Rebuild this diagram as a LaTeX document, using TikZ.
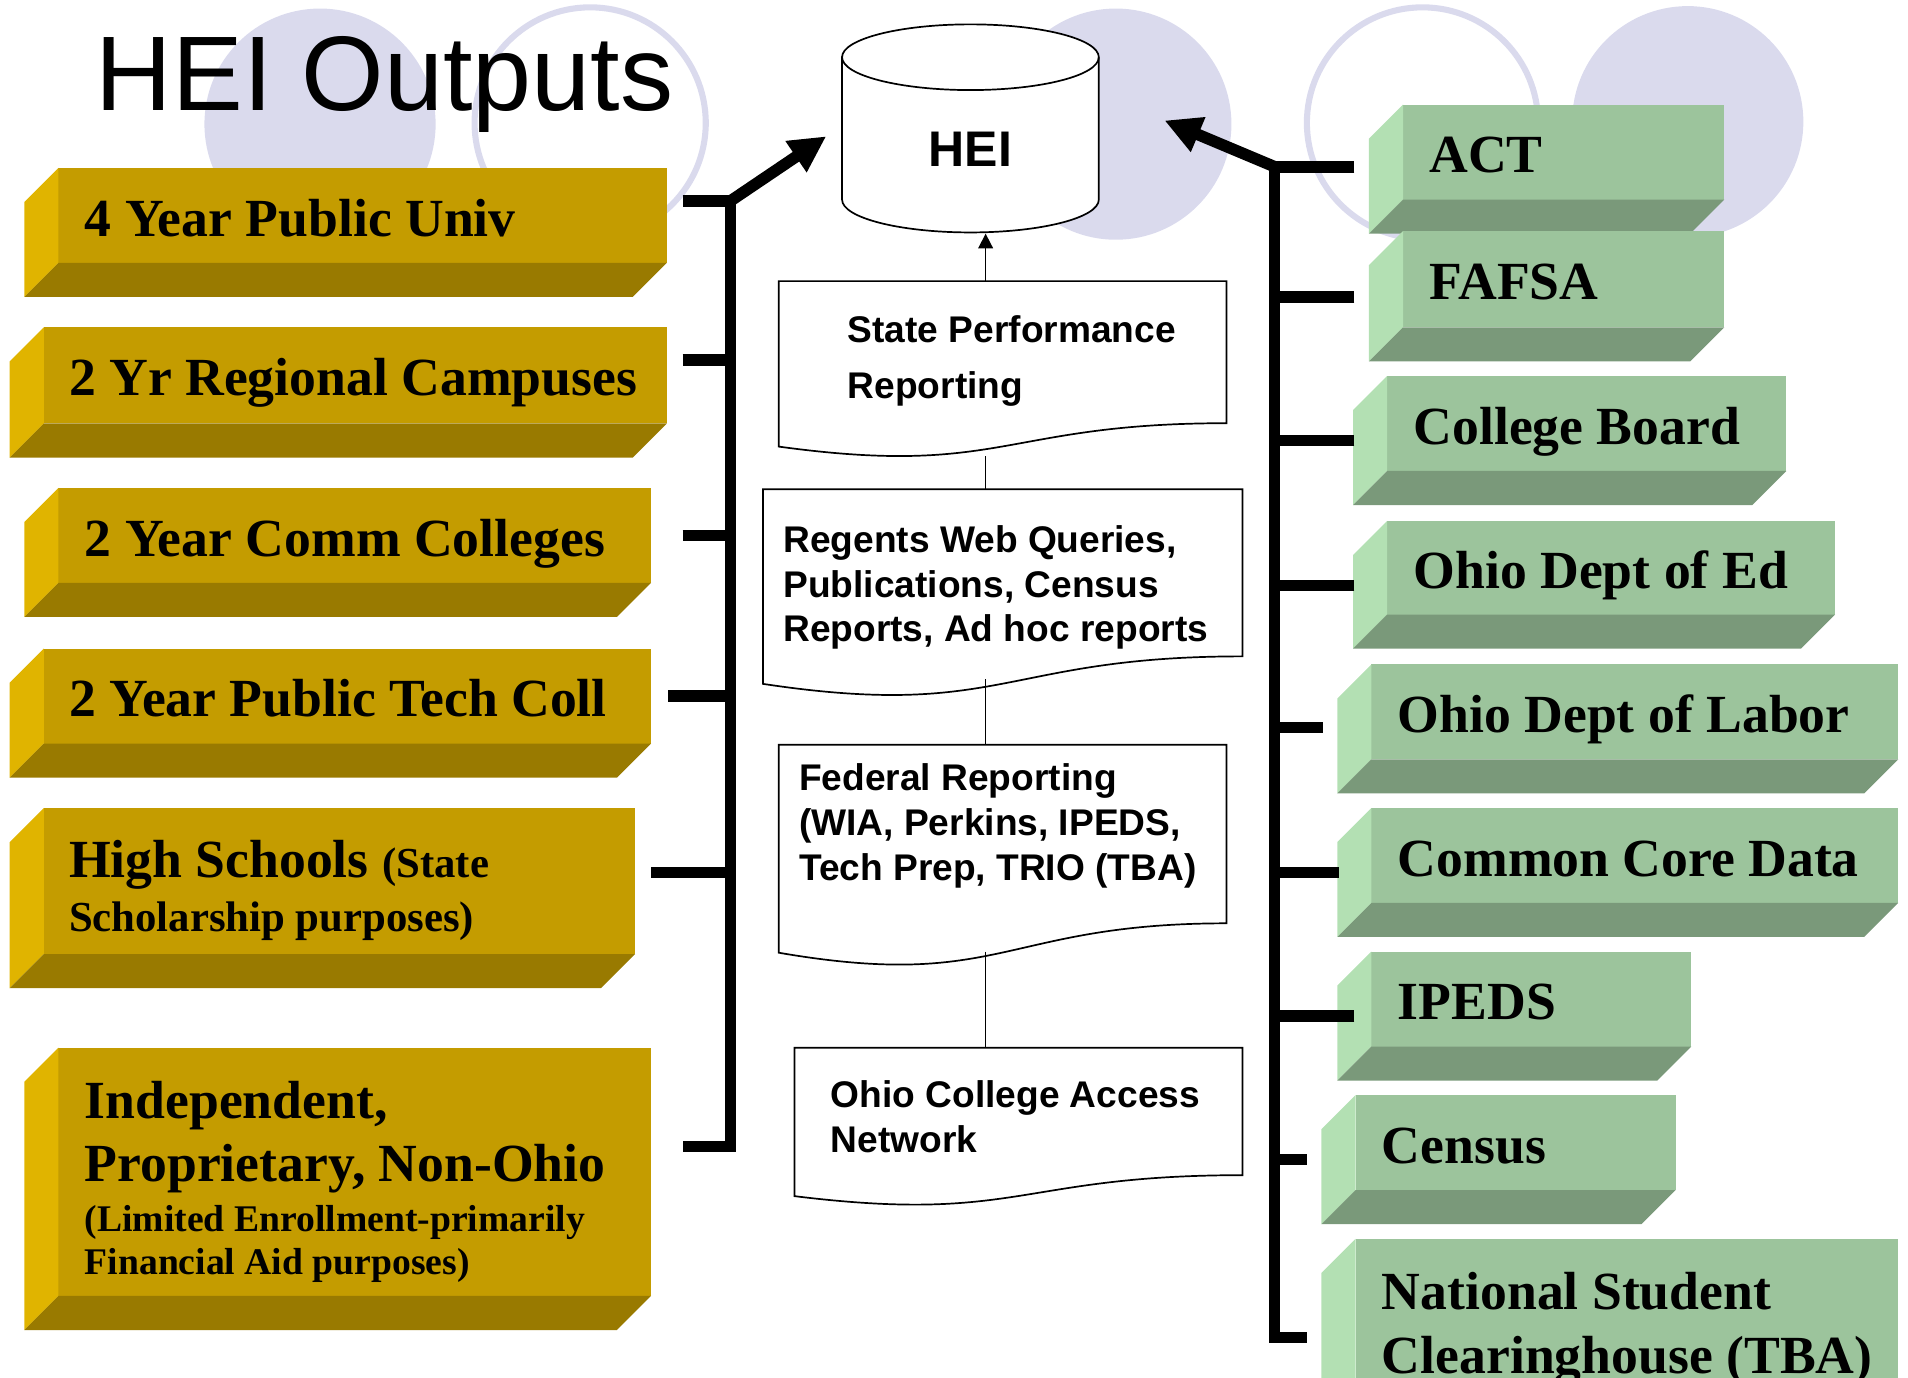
\documentclass[tikz,border=0pt]{standalone}
\usepackage{fontspec}
\setmainfont{Liberation Serif}
\setsansfont{Liberation Sans}
\usetikzlibrary{arrows.meta}
\definecolor{goldface}{RGB}{196,156,0}
\definecolor{goldlite}{RGB}{224,180,0}
\definecolor{golddark}{RGB}{153,122,0}
\definecolor{sageface}{RGB}{156,196,156}
\definecolor{sagelite}{RGB}{179,224,179}
\definecolor{sagedark}{RGB}{122,153,122}
\definecolor{lavender}{RGB}{218,218,237}
\newcommand\bev{28}
\newcommand\slabfont{\rmfamily\bfseries\fontsize{12.55}{14.8}\selectfont}
\newcommand\slabsmall{\fontsize{10}{12}\selectfont}
\newcommand\slabtiny{\fontsize{8.8}{10}\selectfont}
\newcommand\docfont[1]{\sffamily\bfseries\fontsize{8.68}{#1}\selectfont}
% bevelled slab: colour set, x0, y0, x1, y1
\newcommand\slab[5]{%
  \fill[#1face] (#2+\bev,#3) rectangle (#4,#5-\bev);
  \fill[#1lite] (#2,#3+\bev) -- (#2+\bev,#3) -- (#2+\bev,#5-\bev) -- (#2,#5) -- cycle;
  \fill[#1dark] (#2,#5) -- (#2+\bev,#5-\bev) -- (#4,#5-\bev) -- (#4-\bev,#5) -- cycle;}
% document sheet: x0, y0, width, height
\newcommand\docshape[4]{%
  \draw[flow,fill=white] (#1,#2) -- (#1+#3,#2) -- (#1+#3,#2+0.802*#4)
    .. controls (#1+#3/2,#2+0.802*#4) and (#1+#3/2,#2+1.1075*#4) .. (#1,#2+0.934*#4) -- cycle;}
\begin{document}
\begin{tikzpicture}[x=0.1mm, y=-0.1mm, >={Triangle[length=3mm,width=2.9mm]},
  bus/.style={line width=0.95mm},
  flow/.style={line width=0.14mm},
  ring/.style={draw=lavender, line width=0.5mm, fill=white},
  disc/.style={fill=lavender},
  slabtxt/.style={font=\slabfont, inner sep=0pt, anchor=base west},
  slabtwo/.style={font=\slabfont, inner sep=0pt, anchor=north west, align=left},
  doctxt/.style={inner sep=0pt, anchor=north west, align=left}]
\useasboundingbox (0,0) rectangle (1568,1132);
\clip (0,0) rectangle (1568,1132);
% background circles
\fill[disc] (263,102) circle[radius=9.5mm];
\draw[ring] (485,101) circle[radius=9.5mm];
\fill[disc] (917,102) circle[radius=9.5mm];
\draw[ring] (1169,101) circle[radius=9.5mm];
\fill[disc] (1387,100) circle[radius=9.5mm];
\node[font=\sffamily\fontsize{24.8}{30}\selectfont, inner sep=0pt, anchor=base west] (title) at (78,90.5) {HEI Outputs};
% left slabs
\slab{gold}{20}{138}{548}{244}
\slab{gold}{8}{269}{548}{376}
\slab{gold}{20}{401}{535}{507}
\slab{gold}{8}{533}{535}{639}
\slab{gold}{8}{664}{522}{812}
\slab{gold}{20}{861}{535}{1093}
\node[slabtxt] (u4) at (69,194) {4 Year Public Univ};
\node[slabtxt] (r2) at (56,325) {2 Yr Regional Campuses};
\node[slabtxt] (cc2) at (69,457) {2 Year Comm Colleges};
\node[slabtxt] (tc2) at (56,589) {2 Year Public Tech Coll};
\node[slabtwo] (hs) at (56,690) {High Schools {\slabsmall(State}\\[-2.3pt]\slabsmall Scholarship purposes)};
\node[slabtwo] (ind) at (69,888) {Independent,\\Proprietary, Non-Ohio\\[-3.3pt]\slabtiny(Limited Enrollment-primarily\\[-4.6pt]\slabtiny Financial Aid purposes)};
% right slabs
\slab{sage}{1125}{86}{1417}{192}
\slab{sage}{1125}{190}{1417}{297}
\slab{sage}{1112}{309}{1468}{415}
\slab{sage}{1112}{428}{1508}{533}
\slab{sage}{1099}{546}{1560}{652}
\slab{sage}{1099}{664}{1560}{770}
\slab{sage}{1099}{782}{1390}{888}
\slab{sage}{1086}{900}{1377}{1006}
\slab{sage}{1086}{1018}{1560}{1200}
\node[slabtxt] (act) at (1174,142) {ACT};
\node[slabtxt] (fafsa) at (1174,246) {FAFSA};
\node[slabtxt] (cb) at (1161,365) {College Board};
\node[slabtxt] (ode) at (1161,484) {Ohio Dept of Ed};
\node[slabtxt] (odl) at (1148,602) {Ohio Dept of Labor};
\node[slabtxt] (ccd) at (1148,720) {Common Core Data};
\node[slabtxt] (ipeds) at (1148,838) {IPEDS};
\node[slabtxt] (census) at (1135,956) {Census};
\node[slabtwo] (nsc) at (1135,1045) {National Student\\Clearinghouse (TBA)};
% buses
\coordinate (u4-s) at (561,165);
\coordinate (r2-s) at (561,296);
\coordinate (cc2-s) at (561,440);
\coordinate (tc2-s) at (549,572);
\coordinate (hs-s) at (535,717);
\coordinate (ind-s) at (561,942);
\coordinate (lbus-t) at (600.5,165);
\coordinate (lbus-b) at (600.5,942);
\coordinate (act-s) at (1113,137);
\coordinate (fafsa-s) at (1113,244);
\coordinate (cb-s) at (1113,362);
\coordinate (ode-s) at (1113,481);
\coordinate (odl-s) at (1087,598);
\coordinate (ccd-s) at (1100,717);
\coordinate (ipeds-s) at (1113,835);
\coordinate (census-s) at (1074,953);
\coordinate (nsc-s) at (1074,1099);
\coordinate (rbus-t) at (1047.5,137);
\coordinate (rbus-b) at (1047.5,1099);
\coordinate (hei-l) at (679,112);
\coordinate (hei-r) at (957,99);
\coordinate (hei-b) at (810,192);
\draw[bus] (u4-s) -- (lbus-t) -- (lbus-b) -- (ind-s);
\foreach \s in {r2-s,cc2-s,tc2-s,hs-s} \draw[bus] (\s) -- (\s -| lbus-t);
\draw[bus,->] (lbus-t) -- (hei-l);
\draw[bus] (act-s) -- (rbus-t) -- (rbus-b) -- (nsc-s);
\foreach \s in {fafsa-s,cb-s,ode-s,odl-s,ccd-s,ipeds-s,census-s} \draw[bus] (\s) -- (\s -| rbus-t);
\draw[bus,->] (rbus-t) -- (hei-r);
% centre column
\draw[flow,fill=white] (692,47) -- (692,164) arc[start angle=180, end angle=0, x radius=105.5, y radius=27]
  -- (903,47) arc[start angle=0, end angle=-180, x radius=105.5, y radius=27] -- cycle;
\draw[flow] (692,47) arc[start angle=180, end angle=0, x radius=105.5, y radius=27];
\node[font=\sffamily\bfseries\fontsize{11.7}{14}\selectfont, inner sep=0pt] (hei) at (797.5,122.5) {HEI};
\docshape{640}{231}{368}{145.6}
\docshape{627}{402}{394}{171.3}
\docshape{640}{612}{368}{183}
\docshape{653}{861}{368}{130.6}
\node[doctxt, font={\docfont{13.1}}] (spr) at (696,259) {State Performance\\Reporting};
\node[doctxt, font={\docfont{10.4}}] (rwq) at (643,431.5) {Regents Web Queries,\\Publications, Census\\Reports, Ad hoc reports};
\node[doctxt, font={\docfont{10.5}}] (fed) at (656,627) {Federal Reporting\\(WIA, Perkins, IPEDS,\\Tech Prep, TRIO (TBA)};
\node[doctxt, font={\docfont{10.5}}] (ocan) at (682,887) {Ohio College Access\\Network};
\coordinate (spr-t) at (810,231);
\coordinate (spr-b) at (810,375);
\coordinate (rwq-t) at (810,402);
\coordinate (rwq-b) at (810,558);
\coordinate (fed-t) at (810,612);
\coordinate (fed-b) at (810,782);
\coordinate (ocan-t) at (810,861);
\draw[flow,-{Triangle[length=1.2mm,width=1.2mm]}] (spr-t) -- (hei-b);
\draw[flow] (spr-b) -- (rwq-t);
\draw[flow] (rwq-b) -- (fed-t);
\draw[flow] (fed-b) -- (ocan-t);
\end{tikzpicture}
\end{document}
